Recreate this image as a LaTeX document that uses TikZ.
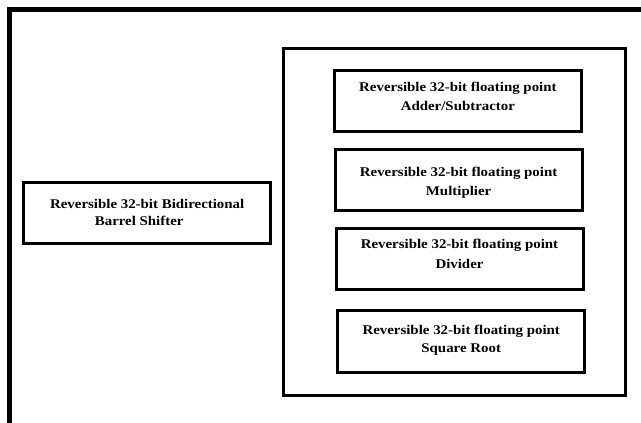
\documentclass[tikz,border=0pt]{standalone}
\usepackage{fontspec}
\newfontfamily\blkfont[FakeStretch=1.12]{Liberation Serif}
\begin{document}
\begin{tikzpicture}[x=1pt,y=-1pt,
  blk/.style={draw=black, line width=3pt, fill=white, inner sep=0pt},
  grp/.style={draw=black, line width=2.5pt, inner sep=0pt},
  lbl/.style={align=center, inner sep=0pt,
    font=\blkfont\bfseries\fontsize{13.3}{19}\selectfont},
]
\useasboundingbox (0,0) rectangle (641,423);
\fill[white] (0,0) rectangle (641,423);

% open outer frame: left and top edges only
\coordinate (frameBL) at (9.2,423);
\coordinate (frameTL) at (9.2,9.8);
\coordinate (frameTR) at (641,9.8);
\draw[line width=5pt, line join=miter] (frameBL) -- (frameTL) -- (frameTR);

% barrel shifter block
\node[blk, minimum width=246.5, minimum height=61] (shift) at (147.2,213.4) {};
\node[lbl, font=\blkfont\bfseries\fontsize{13.3}{17}\selectfont] (shiftT) at ([yshift=1pt]shift.center)
  {Reversible 32-bit Bidirectional\\Barrel Shifter\hspace*{16pt}};

% group of floating point units
\node[grp, minimum width=342, minimum height=347] (fpu) at (454.4,221.9) {};

\node[blk, minimum width=247, minimum height=61.5] (add) at (457.9,100.9) {};
\node[lbl] (addT) at ([yshift=4.5pt]add.center)
  {Reversible 32-bit floating point\\Adder/Subtractor};

\node[blk, minimum width=247, minimum height=61.5] (mul) at (458.6,180) {};
\node[lbl] (mulT) at ([yshift=-2.5pt]mul.center)
  {Reversible 32-bit floating point\\Multiplier};

\node[blk, minimum width=247, minimum height=61] (div) at (459.5,258.8) {};
\node[lbl, font=\blkfont\bfseries\fontsize{13.3}{20.5}\selectfont] (divT) at ([yshift=5pt]div.center)
  {Reversible 32-bit floating point\\Divider};

\node[blk, minimum width=247, minimum height=61.5] (sqr) at (461.2,341.3) {};
\node[lbl, font=\blkfont\bfseries\fontsize{13.3}{18.3}\selectfont] (sqrT) at ([yshift=1pt]sqr.center)
  {Reversible 32-bit floating point\\Square Root};
\end{tikzpicture}
\end{document}
